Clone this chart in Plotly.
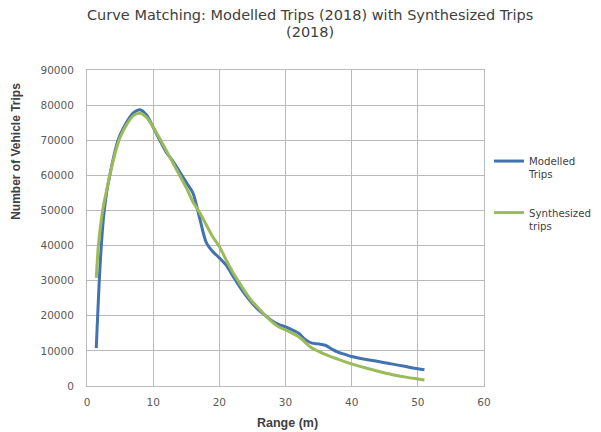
import plotly.graph_objects as go

modelled_x = [1.4, 2, 2.5, 3, 3.5, 4, 4.5, 5, 6, 7, 8, 9, 10, 11, 12, 13, 14, 15, 16, 17, 18, 19, 20,
              21, 22, 23, 24, 25, 26, 27, 28, 29, 30, 31, 32, 33, 34, 35, 36, 37, 38, 39, 40,
              42, 44, 46, 48, 50, 51]
modelled_y = [10800, 35000, 48000, 55500, 60500, 65000, 68800, 71500, 75200, 77800, 78700, 77200, 73700,
              70000, 66500, 64000, 61000, 58000, 55000, 48000, 41000, 38300, 36500,
              34500, 31500, 28500, 25800, 23500, 21500, 20000, 18500, 17500, 16800,
              16000, 15000, 13200, 12200, 12000, 11600, 10500, 9600, 9000, 8400,
              7600, 7000, 6300, 5600, 4900, 4600]

synth_x = [1.4, 1.7, 2, 2.5, 3, 3.5, 4, 4.5, 5, 6, 7, 8, 9, 10, 11, 12, 13, 14, 15, 16, 17, 18, 19, 20,
           21, 22, 23, 24, 25, 26, 27, 28, 29, 30, 32, 34, 36, 38, 40, 42, 44, 46, 48, 50, 51]
synth_y = [30800, 39600, 45000, 51500, 56000, 60500, 64500, 68000, 70800, 74500, 77000, 77700, 76500, 73700,
           70500, 67000, 63500, 60000, 56500, 52500, 49500, 46000, 42500, 39700,
           36000, 32500, 29500, 26500, 24000, 22000, 20000, 18200, 16800, 16000,
           14000, 10800, 9000, 7600, 6300, 5200, 4200, 3300, 2600, 2000, 1700]

x_ticks = [0, 10, 20, 30, 40, 50, 60]
y_ticks = [0, 10000, 20000, 30000, 40000, 50000, 60000, 70000, 80000, 90000]

title_lines = ["Curve Matching: Modelled Trips (2018) with Synthesized Trips", "(2018)"]
x_title = "Range (m)"
y_title = "Number of Vehicle Trips"

FONT = "DejaVu Sans, Liberation Sans, Arial"
TXT = "#404040"

fig = go.Figure()
fig.add_trace(go.Scatter(x=modelled_x, y=modelled_y, mode="lines", name="Modelled<br>Trips",
                         legendgroup="m",
                         line=dict(color="#4372b0", width=3, shape="spline", smoothing=0.8)))
fig.add_trace(go.Scatter(x=synth_x, y=synth_y, mode="lines", name="Synthesized<br>trips",
                         legendgroup="s",
                         line=dict(color="#9bbb59", width=3, shape="spline", smoothing=0.8)))

axis_common = dict(showgrid=True, gridcolor="#bababa", gridwidth=1, showline=True,
                   linecolor="#bababa", linewidth=1, mirror=True, zeroline=False,
                   tickfont=dict(family=FONT, size=10.5, color="#595959"),
                   ticks="", automargin=False)

annotations = [
    dict(text=title_lines[0], xref="paper", yref="paper", x=0.5617, y=1.174,
         xanchor="center", yanchor="middle", showarrow=False,
         font=dict(family=FONT, size=14.5, color=TXT)),
    dict(text=title_lines[1], xref="paper", yref="paper", x=0.5617, y=1.12,
         xanchor="center", yanchor="middle", showarrow=False,
         font=dict(family=FONT, size=14.5, color=TXT)),
    dict(text="<b>" + y_title + "</b>", xref="paper", yref="paper", x=-0.179, y=0.744,
         xanchor="center", yanchor="middle", textangle=-90, showarrow=False,
         font=dict(family="Liberation Sans, Arial", size=12, color=TXT)),
    dict(text="<b>" + x_title + "</b>", xref="paper", yref="paper", x=0.504, y=-0.117,
         xanchor="center", yanchor="middle", showarrow=False,
         font=dict(family="Liberation Sans, Arial", size=12.5, color=TXT)),
]

fig.update_layout(
    width=593, height=424,
    paper_bgcolor="white", plot_bgcolor="white",
    margin=dict(l=79, r=117, t=62, b=46),
    xaxis=dict(range=[0, 60], tickvals=x_ticks, ticklabelstandoff=6, **axis_common),
    yaxis=dict(range=[0, 90000], tickvals=y_ticks, tickformat="d", ticklabelstandoff=10,
               **axis_common),
    annotations=annotations,
    legend=dict(xref="container", yref="container", x=0.8111, y=0.670,
                xanchor="left", yanchor="top", valign="top",
                font=dict(family=FONT, size=10.2, color=TXT),
                tracegroupgap=22, itemwidth=30),
    showlegend=True,
)

fig.write_html("out.html")
